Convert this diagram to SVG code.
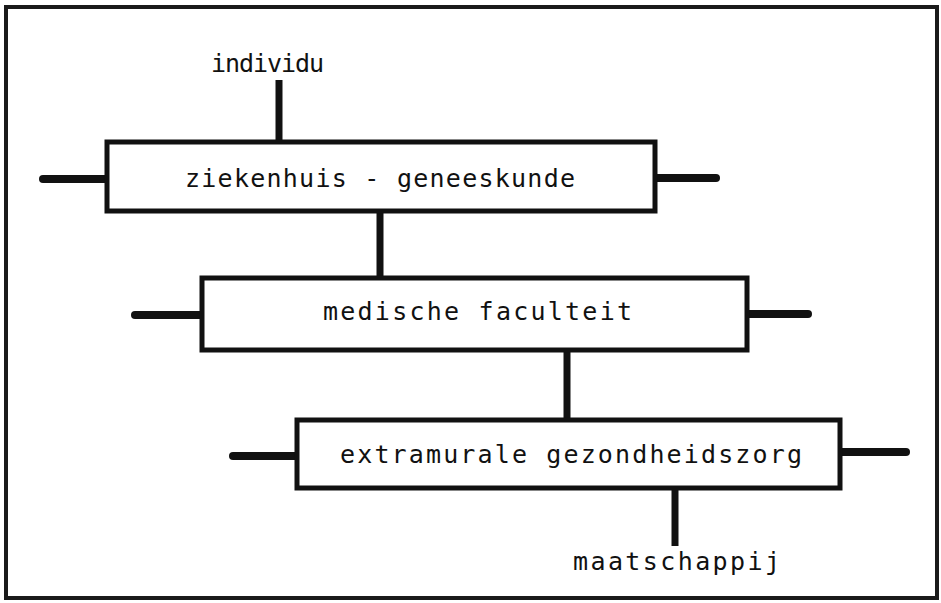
<svg xmlns="http://www.w3.org/2000/svg" width="941" height="603" viewBox="0 0 941 603">
<style>
.frame{fill:none;stroke:#1a1a1a;stroke-width:4}
.box{fill:#fff;stroke:#111;stroke-width:5}
.stub{stroke:#111;stroke-width:8;stroke-linecap:round}
.conn{stroke:#111;stroke-width:7}
text{font-family:"DejaVu Sans Mono","Liberation Mono",monospace;font-size:25px;fill:#111}
</style>
<rect width="941" height="603" fill="#fff"/>
<rect class="frame" x="6" y="7" width="931" height="591"/>
<g id="connectors">
<line class="conn" x1="279" y1="80" x2="279" y2="142"/>
<line class="conn" x1="380" y1="211" x2="380" y2="278"/>
<line class="conn" x1="567" y1="350" x2="567" y2="420"/>
<line class="conn" x1="675" y1="488" x2="675" y2="546"/>
<line class="stub" x1="43" y1="179" x2="107" y2="179"/>
<line class="stub" x1="655" y1="178" x2="716" y2="178"/>
<line class="stub" x1="135" y1="315" x2="202" y2="315"/>
<line class="stub" x1="747" y1="314" x2="808" y2="314"/>
<line class="stub" x1="233" y1="456" x2="297" y2="456"/>
<line class="stub" x1="840" y1="452" x2="906" y2="452"/>
</g>
<g id="individu"><text x="211" y="72" textLength="113">individu</text></g>
<g id="ziekenhuis"><rect class="box" x="107" y="142" width="548" height="69"/><text x="185" y="187" textLength="390">ziekenhuis - geneeskunde</text></g>
<g id="faculteit"><rect class="box" x="202" y="278" width="545" height="72"/><text x="323" y="320" textLength="309">medische faculteit</text></g>
<g id="extramurale"><rect class="box" x="297" y="420" width="543" height="68"/><text x="340" y="463" textLength="462">extramurale gezondheidszorg</text></g>
<g id="maatschappij"><text x="573" y="570" textLength="207">maatschappij</text></g>
</svg>
